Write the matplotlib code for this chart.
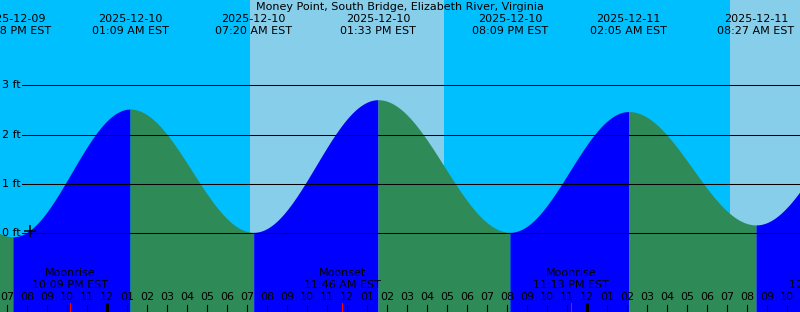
import matplotlib
matplotlib.use("Agg")
from datetime import datetime, timedelta
import numpy as np
import matplotlib.pyplot as plt
import matplotlib.dates as mdates
import matplotlib.transforms as mtransforms

# --- datos ---
title = "Money Point, South Bridge, Elizabeth River, Virginia"

# extremos de marea (el primero y el ultimo quedan fuera de la ventana)
tide_times = ["2025-12-09 12:45", "2025-12-09 19:18", "2025-12-10 01:09",
              "2025-12-10 07:20", "2025-12-10 13:33", "2025-12-10 20:09",
              "2025-12-11 02:05", "2025-12-11 08:27", "2025-12-11 14:40"]
tide_heights = [2.55, -0.07, 2.52, 0.02, 2.71, 0.02, 2.47, 0.17, 2.60]

day_start = ["2025-12-10 07:09", "2025-12-11 07:09"]
day_end = ["2025-12-10 16:51", "2025-12-11 16:52"]

moon_events = ["Moonrise", "Moonset", "Moonrise", "Moonset"]
moon_times = ["2025-12-09 22:09", "2025-12-10 11:46", "2025-12-10 23:13", "2025-12-11 12:00"]

now_time = "2025-12-09 20:09"
now_level = 0.04

ft_levels = [0, 1, 2, 3]

t_start = "2025-12-09 18:39"
t_end = "2025-12-11 10:39"

# colores
night_c = "#00BFFF"
day_c = "#87CEEB"
flood_c = "#0000FF"
ebb_c = "#2E8B57"

W, H = 800, 312
FONT = "DejaVu Sans"
FS = 8


def d(s):
    return datetime.strptime(s, "%Y-%m-%d %H:%M")


def yfrac(py):
    # posicion vertical en pixeles (desde arriba) -> fraccion de ejes
    return 1 - py / H


x0, x1 = mdates.date2num(d(t_start)), mdates.date2num(d(t_end))
ymin, ymax = (233.3 - H) / 49.3, 233.3 / 49.3

fig = plt.figure(figsize=(W / 100, H / 100), dpi=100, facecolor=night_c)
ax = fig.add_axes([0, 0, 1, 1])
ax.set_xlim(x0, x1)
ax.set_ylim(ymin, ymax)
ax.set_facecolor(night_c)
ax.set_xticks([])
ax.set_yticks([])
for sp in ax.spines.values():
    sp.set_visible(False)
trans = mtransforms.blended_transform_factory(ax.transData, ax.transAxes)

# dia / noche
for a, b in zip(day_start, day_end):
    ax.axvspan(mdates.date2num(d(a)), mdates.date2num(d(b)), color=day_c, lw=0, zorder=0)

# curva de marea, azul subiendo y verde bajando
tn = [mdates.date2num(d(s)) for s in tide_times]
for i in range(len(tn) - 1):
    t = np.linspace(tn[i], tn[i + 1], 300)
    f = (t - tn[i]) / (tn[i + 1] - tn[i])
    h = tide_heights[i] + (tide_heights[i + 1] - tide_heights[i]) * (1 - np.cos(np.pi * f)) / 2
    col = flood_c if tide_heights[i + 1] > tide_heights[i] else ebb_c
    ax.fill_between(t, ymin, h, color=col, lw=0, zorder=1)

# lineas de nivel
for lv in ft_levels:
    ax.axhline(lv, xmin=22 / W, xmax=1, color="black", lw=0.75, zorder=3)
    ax.text(2 / W, lv, f"{lv} ft", transform=mtransforms.blended_transform_factory(ax.transAxes, ax.transData),
            ha="left", va="center", fontsize=FS, family=FONT, zorder=4)

ax.plot(mdates.date2num(d(now_time)), now_level, marker="+", ms=9, mew=1.1, color="black", zorder=4)

# titulo
ax.text(0.5, yfrac(7), title, transform=ax.transAxes, ha="center", va="center",
        fontsize=FS, family=FONT, zorder=5)

# etiquetas de pleamar / bajamar arriba
for s in tide_times[1:-1]:
    t = d(s)
    x = mdates.date2num(t)
    ax.text(x, yfrac(19.5), t.strftime("%Y-%m-%d"), transform=trans, ha="center", va="center",
            fontsize=FS, family=FONT, zorder=5)
    ax.text(x, yfrac(31), t.strftime("%I:%M %p EST"), transform=trans, ha="center", va="center",
            fontsize=FS, family=FONT, zorder=5)

# luna
for name, s in zip(moon_events, moon_times):
    t = d(s)
    x = mdates.date2num(t)
    ax.text(x, yfrac(273), name, transform=trans, ha="center", va="center",
            fontsize=FS, family=FONT, zorder=5)
    ax.text(x, yfrac(285), t.strftime("%I:%M %p EST"), transform=trans, ha="center", va="center",
            fontsize=FS, family=FONT, zorder=5)
    ax.plot([x, x], [yfrac(303), 0], transform=trans, color="red", lw=0.8, zorder=5)

# horas
t = d("2025-12-09 19:00")
while t <= d(t_end):
    x = mdates.date2num(t)
    ax.text(x, yfrac(297.5), t.strftime("%I"), transform=trans, ha="center", va="center",
            fontsize=FS, family=FONT, zorder=5)
    if t.hour == 0:
        ax.plot([x, x], [yfrac(303), 0], transform=trans, color="black", lw=2.2, zorder=5,
                solid_capstyle="butt")
    else:
        ax.plot([x, x], [yfrac(305), 0], transform=trans, color="black", lw=0.8, zorder=5)
    t += timedelta(hours=1)

fig.savefig("out.png", dpi=100, facecolor=night_c)
